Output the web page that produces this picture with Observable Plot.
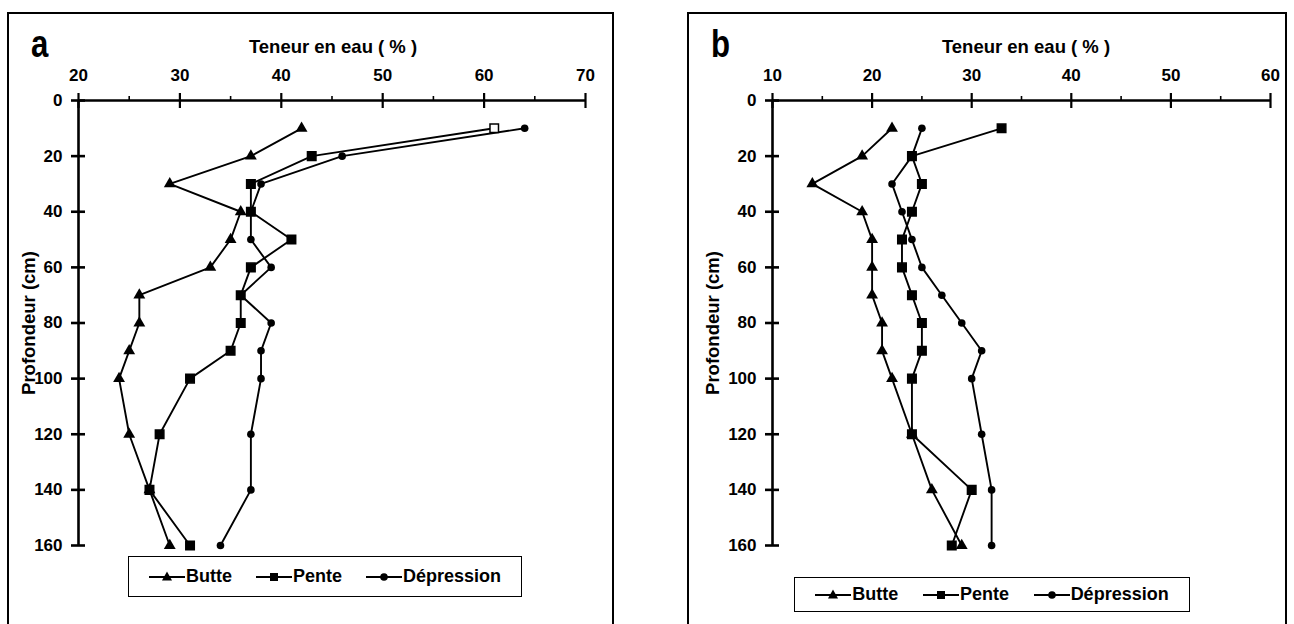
<!DOCTYPE html>
<html>
<head>
<meta charset="utf-8">
<script src="https://cdn.jsdelivr.net/npm/d3@7"></script>
<script src="https://cdn.jsdelivr.net/npm/@observablehq/plot@0.6"></script>
<style>
  html, body { margin: 0; padding: 0; background: #fff; }
  body { width: 1294px; height: 624px; position: relative; overflow: hidden;
         font-family: "Liberation Sans", Arial, Helvetica, sans-serif; font-weight: bold; color: #000; }
  .box { position: absolute; border: 2px solid #000; box-sizing: border-box; }
  .abs { position: absolute; white-space: nowrap; line-height: 1; }
  .panel-letter { font-size: 39px; transform: scaleX(0.8); transform-origin: left top; }
  .title { font-size: 18.5px; transform: translateX(-50%); }
  .ylab { font-size: 18.5px; transform: translate(-50%, -50%) rotate(-90deg); }
  .legend { position: absolute; border: 1.5px solid #000; box-sizing: border-box; background: #fff;
            display: flex; align-items: center; justify-content: space-around; font-size: 18px; padding: 0 8px; }
  .legend .item { display: flex; align-items: center; }
  .legend svg { display: block; margin-right: 1px; }
  .plot { position: absolute; }
</style>
</head>
<body>
<script>
// ---------- data ----------
const depths = [10, 20, 30, 40, 50, 60, 70, 80, 90, 100, 120, 140, 160];
const seriesNames = ["Butte", "Pente", "Dépression"];

// Panel a
const butteA      = [42, 37, 29, 36, 35, 33, 26, 26, 25, 24, 25, 27, 29];
const penteA      = [61, 43, 37, 37, 41, 37, 36, 36, 35, 31, 28, 27, 31];
const depressionA = [64, 46, 38, 37, 37, 39, 36, 39, 38, 38, 37, 37, 34];

// Panel b
const butteB      = [22, 19, 14, 19, 20, 20, 20, 21, 21, 22, 24, 26, 29];
const penteB      = [33, 24, 25, 24, 23, 23, 24, 25, 25, 24, 24, 30, 28];
const depressionB = [25, 24, 22, 23, 24, 25, 27, 29, 31, 30, 31, 32, 32];

const xTicksA = [20, 30, 40, 50, 60, 70];
const xMinorA = [25, 35, 45, 55, 65];
const xTicksB = [10, 20, 30, 40, 50, 60];
const xMinorB = [15, 25, 35, 45, 55];
const yTicks  = [0, 20, 40, 60, 80, 100, 120, 140, 160];

const xTitle = "Teneur en eau ( % )";
const yTitle = "Profondeur (cm)";

// ---------- helpers ----------
function rowsOf(arrs) {
  const rows = [];
  arrs.forEach((vals, k) => vals.forEach((v, i) => rows.push({series: seriesNames[k], depth: depths[i], value: v, idx: i})));
  return rows;
}

function makePanel(cfg) {
  const rows = rowsOf(cfg.data);
  const [x0, x1] = [cfg.xTicks[0], cfg.xTicks[cfg.xTicks.length - 1]];
  const plot = Plot.plot({
    width: cfg.width, height: cfg.height,
    marginLeft: cfg.ml, marginRight: cfg.mr, marginTop: cfg.mt, marginBottom: cfg.mb,
    x: {domain: [x0, x1], axis: null},
    y: {domain: [0, 160], reverse: true, axis: null},
    style: {fontFamily: '"Liberation Sans", Arial, sans-serif', fontSize: "17px", fontWeight: "bold",
            background: "transparent", overflow: "visible", color: "#000"},
    marks: [
      Plot.axisX({anchor: "top", ticks: cfg.xTicks, tickSize: 0, tickPadding: 20, label: null, fontSize: 17, fontWeight: "bold"}),
      Plot.axisY({anchor: "left", ticks: yTicks, tickSize: 0, tickPadding: 16, label: null, fontSize: 17, fontWeight: "bold"}),
      Plot.ruleY([0], {x1: x0, x2: x1, stroke: "#000", strokeWidth: 2.6}),
      Plot.ruleX([x0], {y1: 0, y2: 160, stroke: "#000", strokeWidth: 2.6}),
      Plot.ruleX(cfg.xTicks, {y1: 0, y2: 0, insetTop: -7, insetBottom: -8, stroke: "#000", strokeWidth: 2.2}),
      Plot.ruleX(cfg.xMinor, {y1: 0, y2: 0, insetTop: -4, insetBottom: 0, stroke: "#000", strokeWidth: 1.6}),
      Plot.ruleY(yTicks, {x1: x0, x2: x0, insetLeft: -7, insetRight: -7, stroke: "#000", strokeWidth: 2.6}),
      Plot.line(rows, {x: "value", y: "depth", z: "series", stroke: "#000", strokeWidth: 1.9}),
      Plot.dot(rows.filter(d => d.series === "Butte"), {x: "value", y: "depth", symbol: "triangle", r: 4.4, fill: "#000"}),
      Plot.dot(rows.filter(d => d.series === "Pente"), {x: "value", y: "depth", symbol: "square", r: 4.8,
        fill: d => (cfg.openFirstPente && d.idx === 0) ? "#fff" : "#000", stroke: "#000", strokeWidth: 1.5}),
      Plot.dot(rows.filter(d => d.series === "Dépression"), {x: "value", y: "depth", symbol: "circle", r: 3.8, fill: "#000"})
    ]
  });
  plot.classList.add("plot");
  plot.style.left = cfg.left + "px";
  plot.style.top = cfg.top + "px";
  document.body.appendChild(plot);
}

function el(cls, text, css) {
  const d = document.createElement("div");
  d.className = cls;
  if (text != null) d.textContent = text;
  Object.assign(d.style, css);
  document.body.appendChild(d);
  return d;
}

function icon(kind) {
  const ns = "http://www.w3.org/2000/svg";
  const s = document.createElementNS(ns, "svg");
  s.setAttribute("width", 36); s.setAttribute("height", 14);
  const l = document.createElementNS(ns, "line");
  l.setAttribute("x1", 0); l.setAttribute("x2", 36); l.setAttribute("y1", 7); l.setAttribute("y2", 7);
  l.setAttribute("stroke", "#000"); l.setAttribute("stroke-width", 1.9);
  s.appendChild(l);
  let m;
  if (kind === "Butte") {
    m = document.createElementNS(ns, "path");
    m.setAttribute("d", "M18,1.5 L23,10.5 L13,10.5 Z");
  } else if (kind === "Pente") {
    m = document.createElementNS(ns, "rect");
    m.setAttribute("x", 14); m.setAttribute("y", 3); m.setAttribute("width", 8); m.setAttribute("height", 8);
  } else {
    m = document.createElementNS(ns, "circle");
    m.setAttribute("cx", 18); m.setAttribute("cy", 7); m.setAttribute("r", 3.8);
  }
  m.setAttribute("fill", "#000");
  s.appendChild(m);
  return s;
}

function legend(left, top, width, height) {
  const d = el("legend", null, {left: left + "px", top: top + "px", width: width + "px", height: height + "px"});
  seriesNames.forEach(n => {
    const it = document.createElement("div");
    it.className = "item";
    it.appendChild(icon(n));
    const t = document.createElement("span");
    t.textContent = n;
    it.appendChild(t);
    d.appendChild(it);
  });
}

// ---------- panel boxes ----------
el("box", null, {left: "7px", top: "12px", width: "607px", height: "640px"});
el("box", null, {left: "687px", top: "12px", width: "600px", height: "640px"});

// ---------- plots ----------
makePanel({data: [butteA, penteA, depressionA], xTicks: xTicksA, xMinor: xMinorA,
  left: 8, top: 13, width: 604, height: 560, ml: 70, mr: 27, mt: 87, mb: 28, openFirstPente: true});
makePanel({data: [butteB, penteB, depressionB], xTicks: xTicksB, xMinor: xMinorB,
  left: 688, top: 13, width: 596, height: 560, ml: 84, mr: 14, mt: 87, mb: 28, openFirstPente: false});

// ---------- text ----------
el("abs panel-letter", "a", {left: "31px", top: "24px"});
el("abs panel-letter", "b", {left: "711px", top: "24px"});
el("abs title", xTitle, {left: "333px", top: "38px"});
el("abs title", xTitle, {left: "1026px", top: "38px"});
el("abs ylab", yTitle, {left: "29px", top: "323px"});
el("abs ylab", yTitle, {left: "713px", top: "323px"});

// ---------- legends ----------
legend(128, 556, 394, 41);
legend(794, 577, 396, 35);
</script>
</body>
</html>
